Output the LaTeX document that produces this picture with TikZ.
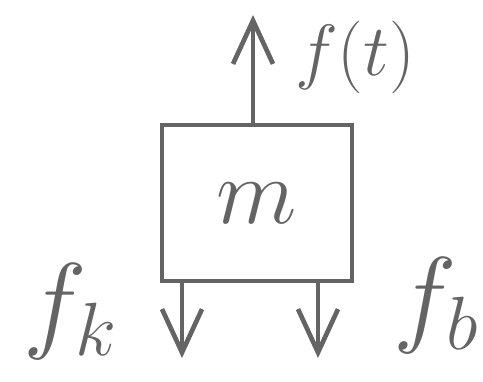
\RequirePackage{fix-cm}
\documentclass[tikz,border=0pt]{standalone}
\usetikzlibrary{arrows.meta}
\definecolor{pencil}{HTML}{646464}
\begin{document}
\begin{tikzpicture}[x=0.03cm,y=-0.03cm,
  body/.style={draw=pencil,line width=1.3mm,minimum width=5.7cm,minimum height=4.68cm,
    inner sep=0pt,text=pencil,font=\fontsize{80}{90}\selectfont},
  a/.style={-{Straight Barb[length=13mm,width=12mm,line width=1.4mm]},line width=1.4mm,pencil},
  lbl/.style={text=pencil,inner sep=0pt,font=\fontsize{62}{70}\selectfont},
  big/.style={lbl,font=\fontsize{92}{100}\selectfont}]
\useasboundingbox (0,0) rectangle (483,381);
\node[body] (mass) at (257,203) {$m$};
\coordinate (ft) at (253,15);
\coordinate (kend) at (182,358);
\coordinate (bend) at (318,358);
\draw[a] (mass.north -| ft)--(ft);
\draw[a] (mass.south -| kend)--(kend);
\draw[a] (mass.south -| bend)--(bend);
\node[lbl] (flab) at (355,57) {$f(t)$};
\node[big] (klab) at (70,312) {$f_k$};
\node[big] (blab) at (436,306) {$f_b$};
\end{tikzpicture}
\end{document}
